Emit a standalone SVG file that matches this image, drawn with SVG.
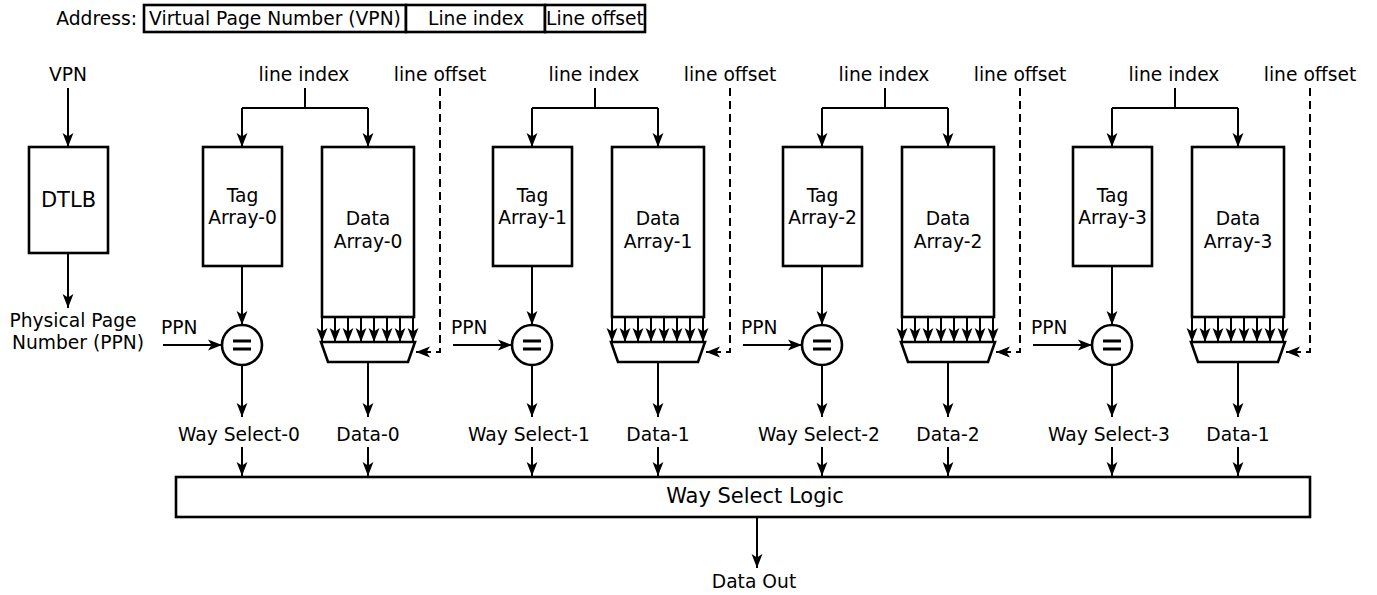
<svg xmlns="http://www.w3.org/2000/svg" width="1377" height="595" viewBox="0 0 1377 595">
  <style>
    text { font-family: "DejaVu Sans", "Liberation Sans", sans-serif; font-size: 18.7px; fill: #000; }
    .c { text-anchor: middle; }
    .box { fill: #fff; stroke: #000; stroke-width: 2.6; }
    .wire { fill: none; stroke: #000; stroke-width: 2; }
    .arr { fill: none; stroke: #000; stroke-width: 2; marker-end: url(#ah); }
    .dash { fill: none; stroke: #000; stroke-width: 2; stroke-dasharray: 8 5; marker-end: url(#ah); }
    .eq { stroke: #000; stroke-width: 3.2; }
  </style>
  <defs>
    <marker id="ah" markerUnits="userSpaceOnUse" markerWidth="16" markerHeight="12" refX="14" refY="6" orient="auto">
      <path d="M14,6 L0,0.6 L3.5,6 L0,11.4 Z" fill="#000"/>
    </marker>
  </defs>
  <rect width="1377" height="595" fill="#fff"/>

  <!-- address format -->
  <g id="address">
    <text x="137" y="25" text-anchor="end">Address:</text>
    <rect class="box" x="144" y="5" width="262" height="27"/>
    <rect class="box" x="406" y="5" width="139" height="27"/>
    <rect class="box" x="545" y="5" width="100" height="27"/>
    <text class="c" x="275" y="25">Virtual Page Number (VPN)</text>
    <text class="c" x="476" y="25">Line index</text>
    <text class="c" x="595" y="25">Line offset</text>
  </g>

  <!-- TLB -->
  <g id="dtlb">
    <rect class="box" x="29" y="147" width="79" height="106"/>
    <text class="c" x="68.5" y="207" style="font-size:21px">DTLB</text>
  </g>

  <!-- way 0 -->
  <g id="tag0"><rect class="box" x="203" y="147" width="79" height="119"/><text class="c" x="242.5" y="202">Tag</text><text class="c" x="242.5" y="224">Array-0</text></g>
  <g id="data0"><rect class="box" x="322" y="147" width="92" height="170"/><text class="c" x="368" y="225">Data</text><text class="c" x="368" y="248">Array-0</text></g>
  <g id="cmp0"><circle class="box" cx="242" cy="345" r="20"/><path class="eq" d="M233,341 H251 M233,349 H251"/></g>
  <g id="mux0"><polygon class="box" points="321,342 415,342 408,362 328,362"/></g>

  <!-- way 1 -->
  <g id="tag1"><rect class="box" x="493" y="147" width="79" height="119"/><text class="c" x="532.5" y="202">Tag</text><text class="c" x="532.5" y="224">Array-1</text></g>
  <g id="data1"><rect class="box" x="612" y="147" width="92" height="170"/><text class="c" x="658" y="225">Data</text><text class="c" x="658" y="248">Array-1</text></g>
  <g id="cmp1"><circle class="box" cx="532" cy="345" r="20"/><path class="eq" d="M523,341 H541 M523,349 H541"/></g>
  <g id="mux1"><polygon class="box" points="611,342 705,342 698,362 618,362"/></g>

  <!-- way 2 -->
  <g id="tag2"><rect class="box" x="783" y="147" width="79" height="119"/><text class="c" x="822.5" y="202">Tag</text><text class="c" x="822.5" y="224">Array-2</text></g>
  <g id="data2"><rect class="box" x="902" y="147" width="92" height="170"/><text class="c" x="948" y="225">Data</text><text class="c" x="948" y="248">Array-2</text></g>
  <g id="cmp2"><circle class="box" cx="822" cy="345" r="20"/><path class="eq" d="M813,341 H831 M813,349 H831"/></g>
  <g id="mux2"><polygon class="box" points="901,342 995,342 988,362 908,362"/></g>

  <!-- way 3 -->
  <g id="tag3"><rect class="box" x="1073" y="147" width="79" height="119"/><text class="c" x="1112.5" y="202">Tag</text><text class="c" x="1112.5" y="224">Array-3</text></g>
  <g id="data3"><rect class="box" x="1192" y="147" width="92" height="170"/><text class="c" x="1238" y="225">Data</text><text class="c" x="1238" y="248">Array-3</text></g>
  <g id="cmp3"><circle class="box" cx="1112" cy="345" r="20"/><path class="eq" d="M1103,341 H1121 M1103,349 H1121"/></g>
  <g id="mux3"><polygon class="box" points="1191,342 1285,342 1278,362 1198,362"/></g>

  <!-- way select -->
  <g id="wayselect">
    <rect class="box" x="176" y="477" width="1134" height="40"/>
    <text class="c" x="755" y="502.5" style="font-size:21px">Way Select Logic</text>
  </g>

  <!-- connectors -->
  <g id="connectors">
    <text class="c" x="68" y="81">VPN</text>
    <path class="arr" d="M68,88 V147"/>
    <path class="arr" d="M68,253 V308"/>
    <text class="c" x="73" y="327">Physical Page</text>
    <text class="c" x="78" y="349">Number (PPN)</text>
    <path class="arr" d="M757,517 V568"/>
    <text class="c" x="754" y="588">Data Out</text>

    <g id="wires0">
      <text class="c" x="304" y="81">line index</text>
      <text class="c" x="440" y="81">line offset</text>
      <path class="wire" d="M305,88 V108 M242,108 H368"/>
      <path class="arr" d="M242,108 V147"/><path class="arr" d="M368,108 V147"/>
      <path class="dash" d="M440,88 V352 H416"/>
      <path class="arr" d="M242,266 V325"/>
      <text x="161" y="334">PPN</text>
      <path class="arr" d="M163,345 H222"/>
      <path class="arr" d="M242,365 V417"/><path class="arr" d="M242,447 V476"/>
      <path class="arr" d="M368,362 V417"/><path class="arr" d="M368,447 V476"/>
      <text class="c" x="239" y="441">Way Select-0</text>
      <text class="c" x="368" y="441">Data-0</text>
      <path class="arr" d="M322,317 V342"/><path class="arr" d="M335,317 V342"/><path class="arr" d="M348,317 V342"/><path class="arr" d="M361,317 V342"/>
      <path class="arr" d="M374,317 V342"/><path class="arr" d="M387,317 V342"/><path class="arr" d="M400,317 V342"/><path class="arr" d="M413,317 V342"/>
    </g>

    <g id="wires1">
      <text class="c" x="594" y="81">line index</text>
      <text class="c" x="730" y="81">line offset</text>
      <path class="wire" d="M595,88 V108 M532,108 H658"/>
      <path class="arr" d="M532,108 V147"/><path class="arr" d="M658,108 V147"/>
      <path class="dash" d="M730,88 V352 H706"/>
      <path class="arr" d="M532,266 V325"/>
      <text x="451" y="334">PPN</text>
      <path class="arr" d="M453,345 H512"/>
      <path class="arr" d="M532,365 V417"/><path class="arr" d="M532,447 V476"/>
      <path class="arr" d="M658,362 V417"/><path class="arr" d="M658,447 V476"/>
      <text class="c" x="529" y="441">Way Select-1</text>
      <text class="c" x="658" y="441">Data-1</text>
      <path class="arr" d="M612,317 V342"/><path class="arr" d="M625,317 V342"/><path class="arr" d="M638,317 V342"/><path class="arr" d="M651,317 V342"/>
      <path class="arr" d="M664,317 V342"/><path class="arr" d="M677,317 V342"/><path class="arr" d="M690,317 V342"/><path class="arr" d="M703,317 V342"/>
    </g>

    <g id="wires2">
      <text class="c" x="884" y="81">line index</text>
      <text class="c" x="1020" y="81">line offset</text>
      <path class="wire" d="M885,88 V108 M822,108 H948"/>
      <path class="arr" d="M822,108 V147"/><path class="arr" d="M948,108 V147"/>
      <path class="dash" d="M1020,88 V352 H996"/>
      <path class="arr" d="M822,266 V325"/>
      <text x="741" y="334">PPN</text>
      <path class="arr" d="M743,345 H802"/>
      <path class="arr" d="M822,365 V417"/><path class="arr" d="M822,447 V476"/>
      <path class="arr" d="M948,362 V417"/><path class="arr" d="M948,447 V476"/>
      <text class="c" x="819" y="441">Way Select-2</text>
      <text class="c" x="948" y="441">Data-2</text>
      <path class="arr" d="M902,317 V342"/><path class="arr" d="M915,317 V342"/><path class="arr" d="M928,317 V342"/><path class="arr" d="M941,317 V342"/>
      <path class="arr" d="M954,317 V342"/><path class="arr" d="M967,317 V342"/><path class="arr" d="M980,317 V342"/><path class="arr" d="M993,317 V342"/>
    </g>

    <g id="wires3">
      <text class="c" x="1174" y="81">line index</text>
      <text class="c" x="1310" y="81">line offset</text>
      <path class="wire" d="M1175,88 V108 M1112,108 H1238"/>
      <path class="arr" d="M1112,108 V147"/><path class="arr" d="M1238,108 V147"/>
      <path class="dash" d="M1310,88 V352 H1286"/>
      <path class="arr" d="M1112,266 V325"/>
      <text x="1031" y="334">PPN</text>
      <path class="arr" d="M1033,345 H1092"/>
      <path class="arr" d="M1112,365 V417"/><path class="arr" d="M1112,447 V476"/>
      <path class="arr" d="M1238,362 V417"/><path class="arr" d="M1238,447 V476"/>
      <text class="c" x="1109" y="441">Way Select-3</text>
      <text class="c" x="1238" y="441">Data-1</text>
      <path class="arr" d="M1192,317 V342"/><path class="arr" d="M1205,317 V342"/><path class="arr" d="M1218,317 V342"/><path class="arr" d="M1231,317 V342"/>
      <path class="arr" d="M1244,317 V342"/><path class="arr" d="M1257,317 V342"/><path class="arr" d="M1270,317 V342"/><path class="arr" d="M1283,317 V342"/>
    </g>
  </g>
</svg>
